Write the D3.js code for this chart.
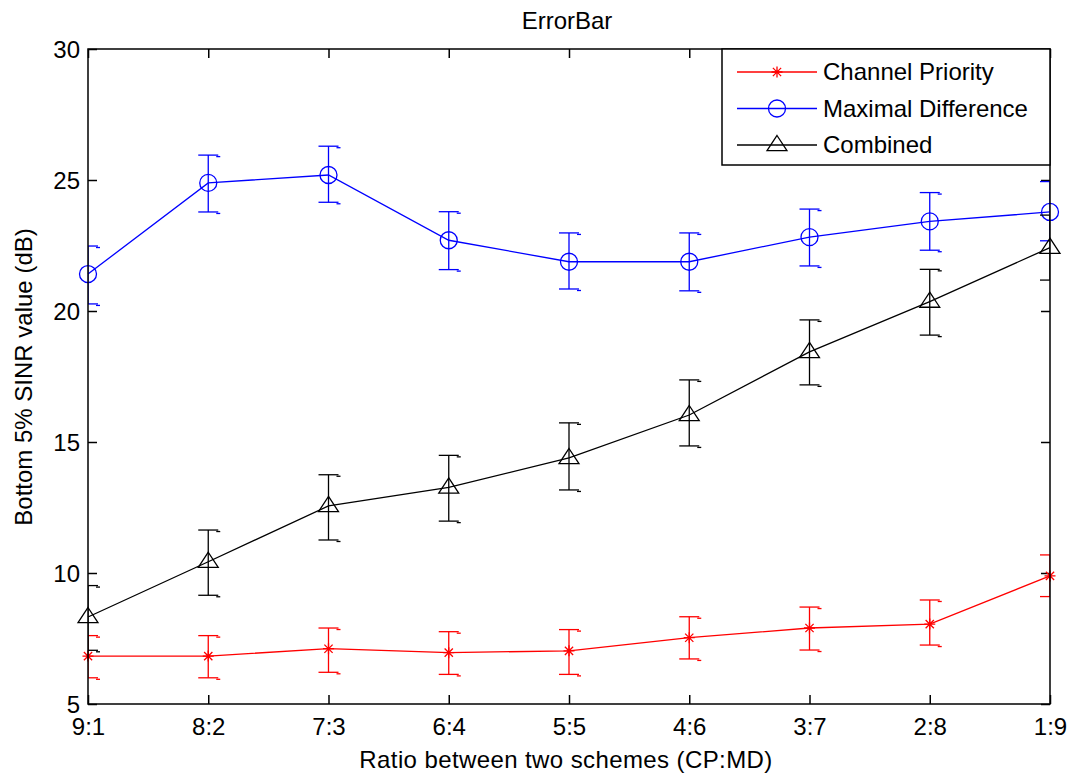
<!DOCTYPE html>
<html><head><meta charset="utf-8">
<script src="https://cdn.jsdelivr.net/npm/d3@7"></script>
<style>body{margin:0;background:#fff;} text{font-family:"Liberation Sans",Arial,sans-serif;}</style>
</head><body><svg id="c" width="1077" height="774"></svg>
<script>
const categories = ["9:1","8:2","7:3","6:4","5:5","4:6","3:7","2:8","1:9"];
const yTicks = [5,10,15,20,25,30];
const cpMean  = [6.83,6.83,7.11,6.96,7.03,7.53,7.90,8.05,9.89];
const cpLow   = [6.00,6.00,6.21,6.13,6.13,6.72,7.06,7.25,9.10];
const cpHigh  = [7.61,7.61,7.90,7.76,7.84,8.33,8.70,8.97,10.69];
const mdMean  = [21.41,24.89,25.19,22.70,21.88,21.88,22.82,23.42,23.78];
const mdLow   = [20.27,23.78,24.15,21.58,20.84,20.77,21.72,22.32,22.68];
const mdHigh  = [22.48,25.95,26.29,23.79,22.98,22.98,23.89,24.52,24.94];
const coMean  = [8.32,10.43,12.56,13.27,14.39,16.03,18.44,20.36,22.42];
const coLow   = [7.05,9.15,11.26,11.98,13.17,14.85,17.18,19.08,21.18];
const coHigh  = [9.52,11.64,13.75,14.49,15.73,17.37,19.66,21.59,23.66];
const seriesNames = ["Channel Priority","Maximal Difference","Combined"];

const series = [
  {name:seriesNames[0], mean:cpMean, low:cpLow, high:cpHigh, color:"#ff0000", marker:"star"},
  {name:seriesNames[1], mean:mdMean, low:mdLow, high:mdHigh, color:"#0000ff", marker:"circle"},
  {name:seriesNames[2], mean:coMean, low:coLow, high:coHigh, color:"#000000", marker:"triangle"}
];

const L=88, R=1050, T=49, B=704;
const FS=24;
const svg = d3.select("#c");
const x = d3.scalePoint().domain(categories).range([L,R]).padding(0);
const y = d3.scaleLinear().domain([5,30]).range([B,T]);

svg.append("defs").append("clipPath").attr("id","plotclip")
  .append("rect").attr("x",L).attr("y",T).attr("width",R-L).attr("height",B-T);

const tl = 9;
const fmt = d3.format("d");
const gl = svg.append("g").attr("transform",`translate(${L},0)`)
  .call(d3.axisLeft(y).tickValues(yTicks).tickSize(-tl).tickPadding(8).tickFormat(fmt));
const gr = svg.append("g").attr("transform",`translate(${R},0)`)
  .call(d3.axisRight(y).tickValues(yTicks).tickSize(-tl).tickFormat(""));
const gb = svg.append("g").attr("transform",`translate(0,${B})`)
  .call(d3.axisBottom(x).tickSize(-tl).tickPadding(14));
const gt = svg.append("g").attr("transform",`translate(0,${T})`)
  .call(d3.axisTop(x).tickSize(-tl).tickFormat(""));
[gl,gr,gb,gt].forEach(g=>{ g.select(".domain").remove(); g.selectAll("line").attr("stroke","#000").attr("stroke-width",1.5); });
gl.selectAll("text").attr("font-size",FS).attr("fill","#000").attr("dy","0.35em");
gb.selectAll("text").attr("font-size",FS).attr("fill","#000").attr("dy","0.71em");

function drawMarker(g, type, cx, cy, color){
  if(type==="circle"){
    g.append("circle").attr("cx",cx).attr("cy",cy).attr("r",8.5).attr("fill","none").attr("stroke",color).attr("stroke-width",1.3);
  } else if(type==="triangle"){
    const s=9.5;
    g.append("path").attr("d",`M${cx},${cy-s} L${cx+s*1.05},${cy+s*0.6} L${cx-s*1.05},${cy+s*0.6} Z`)
      .attr("fill","none").attr("stroke",color).attr("stroke-width",1.3);
  } else {
    const s=5.5;
    const p = `M${cx-s},${cy} L${cx+s},${cy} M${cx},${cy-s} L${cx},${cy+s} M${cx-s*0.75},${cy-s*0.75} L${cx+s*0.75},${cy+s*0.75} M${cx-s*0.75},${cy+s*0.75} L${cx+s*0.75},${cy-s*0.75}`;
    g.append("path").attr("d",p).attr("stroke",color).attr("stroke-width",1.3).attr("fill","none");
  }
}

const line = d3.line().x(d=>x(d.c)).y(d=>y(d.v));
series.forEach(s=>{
  const g = svg.append("g");
  const eb = g.append("g").attr("clip-path","url(#plotclip)");
  const pts = categories.map((c,i)=>({c, v:s.mean[i], lo:s.low[i], hi:s.high[i]}));
  pts.forEach(p=>{
    const cx=x(p.c), cw=10;
    eb.append("line").attr("x1",cx).attr("x2",cx).attr("y1",y(p.lo)).attr("y2",y(p.hi)).attr("stroke",s.color).attr("stroke-width",1.3);
    [p.lo,p.hi].forEach(v=>{
      eb.append("line").attr("x1",cx-cw).attr("x2",cx+cw).attr("y1",y(v)).attr("y2",y(v)).attr("stroke",s.color).attr("stroke-width",1.3);
      eb.append("line").attr("x1",cx+8).attr("x2",cx+12).attr("y1",y(v)+1.5).attr("y2",y(v)+1.5).attr("stroke",s.color).attr("stroke-width",1.3);
    });
  });
  g.append("path").datum(pts).attr("d",line).attr("fill","none").attr("stroke",s.color).attr("stroke-width",1.3);
  pts.forEach(p=>drawMarker(g,s.marker,x(p.c),y(p.v),s.color));
});

// axes box
svg.append("rect").attr("x",L).attr("y",T).attr("width",R-L).attr("height",B-T)
  .attr("fill","none").attr("stroke","#000").attr("stroke-width",1.5);

// legend
const lg = svg.append("g");
lg.append("rect").attr("x",722).attr("y",T).attr("width",R-722).attr("height",116)
  .attr("fill","#fff").attr("stroke","#000").attr("stroke-width",1.5);
series.forEach((s,i)=>{
  const yy = 72 + i*36.5;
  lg.append("line").attr("x1",737).attr("x2",817).attr("y1",yy).attr("y2",yy).attr("stroke",s.color).attr("stroke-width",1.3);
  drawMarker(lg,s.marker,777,yy,s.color);
  lg.append("text").attr("x",823).attr("y",yy).attr("dy","0.35em").attr("font-size",FS).text(s.name);
});

// titles
svg.append("text").attr("x",567).attr("y",29).attr("text-anchor","middle").attr("font-size",FS).text("ErrorBar");
svg.append("text").attr("x",566).attr("y",768).attr("text-anchor","middle").attr("font-size",FS).attr("letter-spacing",0.4).text("Ratio between two schemes (CP:MD)");
svg.append("text").attr("transform",`translate(32,${377}) rotate(-90)`).attr("text-anchor","middle").attr("font-size",FS).text("Bottom 5% SINR value (dB)");
</script></body></html>
